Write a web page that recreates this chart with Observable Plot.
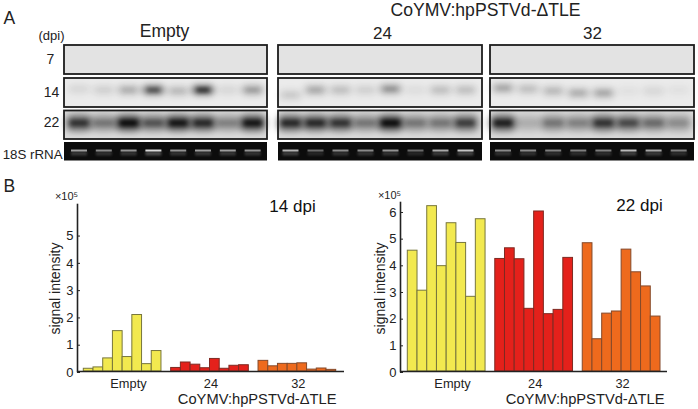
<!DOCTYPE html>
<html><head><meta charset="utf-8">
<script src="https://cdn.jsdelivr.net/npm/d3@7"></script>
<script src="https://cdn.jsdelivr.net/npm/@observablehq/plot@0.6"></script>
<style>
html,body{margin:0;padding:0;background:#fff;}
#fig{position:relative;width:698px;height:409px;overflow:hidden;}
#fig svg{position:absolute;left:0;top:0;background:transparent;max-width:none;}
</style></head><body><div id="fig"></div>
<script>
// ---------- data ----------
const groups = ["Empty", "24", "32"];
const groupColors = ["#f2e94f", "#e4211b", "#ee6a1d"];
const groupStrokes = ["#77763c", "#7e2a22", "#84492a"];

const dpi14Empty = [0.1, 0.15, 0.48, 1.48, 0.53, 2.07, 0.27, 0.75];
const dpi14Hp24  = [0.13, 0.33, 0.25, 0.12, 0.46, 0.1, 0.21, 0.23];
const dpi14Hp32  = [0.39, 0.19, 0.28, 0.28, 0.3, 0.07, 0.11, 0.06];

const dpi22Empty = [4.53, 3.03, 6.2, 3.95, 5.56, 4.82, 2.8, 5.71];
const dpi22Hp24  = [4.22, 4.62, 4.21, 2.35, 6.0, 2.15, 2.31, 4.26];
const dpi22Hp32  = [4.81, 1.21, 2.17, 2.25, 4.57, 3.72, 3.19, 2.06];

const blot14 = [[.14,.18,.38,.85,.32,1,.14,.48],[.22,.4,.28,.18,.52,.1,.28,.28],[.42,.28,.32,.38,.42,.08,.14,.08]];
const blot14Drift = [[-1,0,0,0,1,0,0,0],[5,0,0,0,-1,0,0,0],[-2,-1,1,3,3,1,1,0]];
const blot22 = [[.8,.5,1,.65,.95,.85,.45,.95],[.85,.85,.8,.5,1,.5,.5,.75],[.9,.25,.5,.45,.8,.7,.55,.4]];
const rrna   = [[.7,.6,.65,1,.65,.7,.7,.65],[.8,.45,.6,.6,.65,.45,.75,.9],[.6,.6,.55,.55,.55,.85,.75,.55]];

const rowLabels = ["7", "14", "22"];
const yTicks14 = [0, 1, 2, 3, 4, 5];
const yTicks22 = [0, 1, 2, 3, 4, 5, 6];
const geneLabel = "CoYMV:hpPSTVd-ΔTLE";

// ---------- layout ----------
const W = 698, H = 409, FONT = "Liberation Sans, Arial, sans-serif", INK = "#222";
const panelX = [[64, 267], [278, 482], [490, 694]];
const laneStart = [79, 290.5, 503], laneStep = [24.8, 25, 25.1];
const rowY = {r7: [45, 74], r14: [78, 107], r22: [110.5, 139], rrna: [142, 160.5]};
const laneX = (g, i) => laneStart[g] + i * laneStep[g];

const lanes = (arr, y, w, h, drift) => arr.flatMap((row, g) => row.map((v, i) => {
  const c = y + (drift ? drift[g][i] : 0);
  return {v, x1: laneX(g, i) - w / 2, x2: laneX(g, i) + w / 2, y1: c - h / 2, y2: c + h / 2};
}));
const panels = (row) => panelX.map(([x1, x2]) => ({x1, x2, y1: row[0], y2: row[1]}));
const allPanels = [...panels(rowY.r7), ...panels(rowY.r14), ...panels(rowY.r22)];

const txt = (text, x, y, fontSize, extra = {}) =>
  Plot.text([text], {x: () => x, y: () => y, text: d => d, fontSize, fill: INK, ...extra});

const blot = Plot.plot({
  width: W, height: H, margin: 0,
  x: {domain: [0, W], range: [0, W], axis: null},
  y: {domain: [0, H], range: [0, H], axis: null},
  opacity: {domain: [0, 1], range: [0, 1]},
  style: {fontFamily: FONT, background: "transparent"},
  marks: [
    Plot.rect(panels(rowY.r7), {x1: "x1", x2: "x2", y1: "y1", y2: "y2", fill: "#e3e3e3"}),
    Plot.rect(panels(rowY.r14), {x1: "x1", x2: "x2", y1: "y1", y2: "y2", fill: "#ebebeb"}),
    Plot.rect(panels(rowY.r22), {x1: "x1", x2: "x2", y1: "y1", y2: "y2", fill: "#dbdbdb"}),
    // hybridisation bands: soft halo and darker core
    Plot.rect(lanes(blot14, 90, 23, 10, blot14Drift), {x1: "x1", x2: "x2", y1: "y1", y2: "y2", fill: "#222", fillOpacity: d => d.v * 0.6, rx: 5, imageFilter: "blur(3px)"}),
    Plot.rect(lanes(blot14, 90, 13, 4, blot14Drift), {x1: "x1", x2: "x2", y1: "y1", y2: "y2", fill: "#000", fillOpacity: d => d.v * d.v * 0.75, rx: 2, imageFilter: "blur(2px)"}),
    Plot.rect(lanes(blot22, 123, 26, 16), {x1: "x1", x2: "x2", y1: "y1", y2: "y2", fill: "#222", fillOpacity: d => d.v * 0.78, rx: 6, imageFilter: "blur(3.5px)"}),
    Plot.rect(lanes(blot22, 123, 18, 6), {x1: "x1", x2: "x2", y1: "y1", y2: "y2", fill: "#000", fillOpacity: d => d.v * d.v * 0.9, rx: 2, imageFilter: "blur(2px)"}),
    Plot.rect(allPanels, {x1: "x1", x2: "x2", y1: "y1", y2: "y2", fill: "none", stroke: "#1c1c1c", strokeWidth: 1.8}),
    // rRNA gel
    Plot.rect(panels(rowY.rrna), {x1: "x1", x2: "x2", y1: "y1", y2: "y2", fill: "#0c0c0c"}),
    Plot.rect(lanes(rrna, 153.5, 16, 4), {x1: "x1", x2: "x2", y1: "y1", y2: "y2", fill: "#8a8a8a", fillOpacity: d => d.v * 0.5, imageFilter: "blur(1px)"}),
    Plot.rect(lanes(rrna, 150.5, 16, 2), {x1: "x1", x2: "x2", y1: "y1", y2: "y2", fill: "#eee", fillOpacity: d => d.v * 0.9, imageFilter: "blur(0.7px)"}),
    // labels
    txt("A", 3, 18, 17.5, {textAnchor: "start"}),
    txt("B", 3, 186, 17.5, {textAnchor: "start"}),
    txt("(dpi)", 51, 35, 13),
    txt(rowLabels[0], 50, 59, 14),
    txt(rowLabels[1], 51, 92, 14),
    txt(rowLabels[2], 51, 122, 14),
    txt("18S rRNA", 62, 154, 13.3, {textAnchor: "end"}),
    txt(groups[0], 164, 31, 17.5),
    txt(geneLabel, 485, 10, 17.6),
    txt(groups[1], 382, 33, 17),
    txt(groups[2], 592, 33, 17)
  ]
});

function barChart({series, ticks, frame, barRange, yScale, title, titleAt, labelShift, axisLabelX, sciAt, geneRight}) {
  const data = series.flatMap((vals, g) => vals.map((v, i) => ({
    group: groups[g], v, x1: g * 9 + i, x2: g * 9 + i + 1
  })));
  const sx = d3.scaleLinear([0, 26], barRange), sy = d3.scaleLinear(yScale.domain, yScale.range);
  const labels = groups.map((g, k) => ({g, slot: k * 9 + 4 + (k === 0 ? labelShift : 0.1)}));
  return Plot.plot({
    width: W, height: H,
    marginLeft: frame[0], marginRight: W - frame[1], marginTop: yScale.range[1], marginBottom: H - yScale.range[0],
    x: {domain: [0, 26], range: barRange, axis: null},
    y: {domain: yScale.domain, range: yScale.range, axis: null},
    color: {domain: groups, range: groupColors},
    style: {fontFamily: FONT, background: "transparent", overflow: "visible"},
    marks: [
      Plot.rectY(data, {x1: "x1", x2: "x2", y: "v", fill: "group", inset: 0,
        stroke: d => groupStrokes[groups.indexOf(d.group)], strokeWidth: 1}),
      Plot.ruleY([0], {stroke: INK, strokeWidth: 1.6}),
      Plot.frame({anchor: "left", stroke: INK, strokeWidth: 1.6}),
      Plot.axisY({anchor: "left", ticks, tickFormat: d => d, tickSize: -3, tickPadding: 7, fontSize: 13, fill: INK, stroke: INK, label: null, dy: 1}),
      Plot.text(["signal intensity"], {x: () => sx.invert(axisLabelX), y: () => sy.invert(288), rotate: -90, fontSize: 14, fill: INK, text: d => d}),
      Plot.text(["×10⁵"], {x: () => sx.invert(sciAt[0]), y: () => sy.invert(sciAt[1]), fontSize: 11, fill: INK, text: d => d}),
      Plot.text([title], {x: () => sx.invert(titleAt[0]), y: () => sy.invert(titleAt[1]), fontSize: 17, fill: "#111", text: d => d}),
      Plot.text(labels, {x: "slot", y: () => 0, text: "g", dy: 12, fontSize: 12.8, fill: INK}),
      Plot.text([geneLabel], {x: () => sx.invert(geneRight), y: () => 0, text: d => d, textAnchor: "end", dy: 28, fontSize: 14.7, fill: INK})
    ]
  });
}

const chart14 = barChart({
  series: [dpi14Empty, dpi14Hp24, dpi14Hp32], ticks: yTicks14,
  frame: [77, 344], barRange: [83.3, 335.7],
  yScale: {domain: [0, 6.12], range: [371, 204]},
  title: "14 dpi", titleAt: [292, 206], labelShift: 0.6, axisLabelX: 55, sciAt: [66, 196], geneRight: 336
});
const chart22 = barChart({
  series: [dpi22Empty, dpi22Hp24, dpi22Hp32], ticks: yTicks22,
  frame: [400, 667], barRange: [407.3, 660],
  yScale: {domain: [0, 6.337], range: [371, 202]},
  title: "22 dpi", titleAt: [639, 205], labelShift: 0.6, axisLabelX: 380, sciAt: [389, 195], geneRight: 664
});

const fig = document.getElementById("fig");
fig.append(blot, chart14, chart22);
</script></body></html>
